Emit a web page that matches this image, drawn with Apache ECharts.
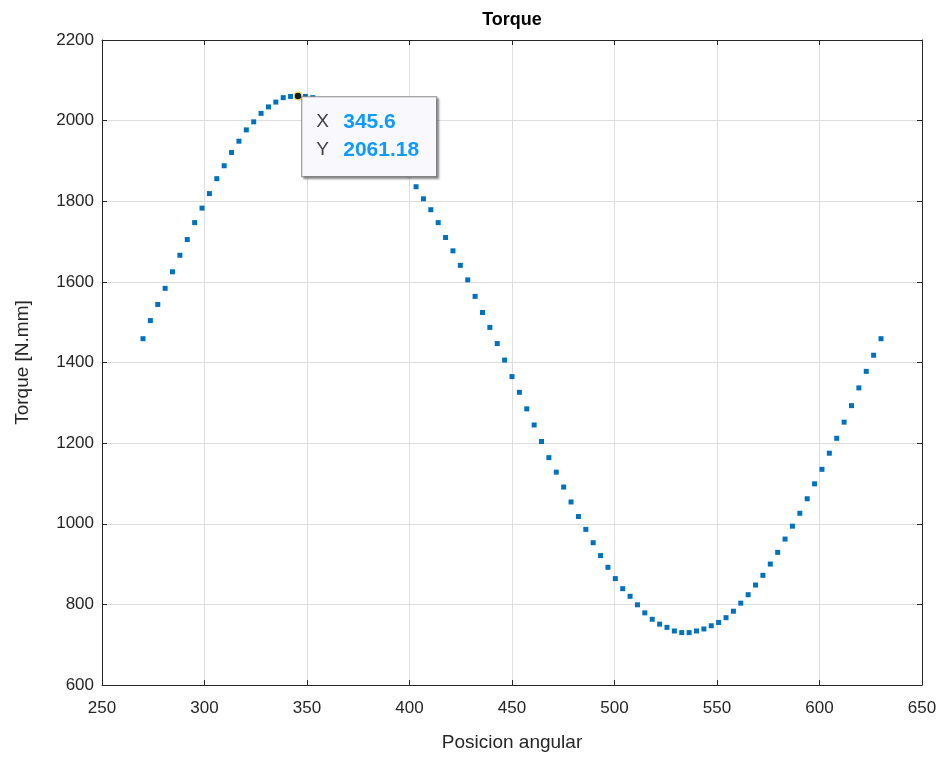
<!DOCTYPE html>
<html>
<head>
<meta charset="utf-8">
<title>Torque</title>
<script src="https://cdn.jsdelivr.net/npm/echarts@6/dist/echarts.min.js"></script>
<style>
  html, body { margin: 0; padding: 0; background: #ffffff; }
  #chart { width: 945px; height: 757px; }
</style>
</head>
<body>
<div id="chart"></div>
<script>
// Angular position of each sample (degrees)
const angles = [
  270, 273.6, 277.2, 280.8, 284.4, 288, 291.6, 295.2, 298.8, 302.4,
  306, 309.6, 313.2, 316.8, 320.4, 324, 327.6, 331.2, 334.8, 338.4,
  342, 345.6, 349.2, 352.8, 356.4, 360, 363.6, 367.2, 370.8, 374.4,
  378, 381.6, 385.2, 388.8, 392.4, 396, 399.6, 403.2, 406.8, 410.4,
  414, 417.6, 421.2, 424.8, 428.4, 432, 435.6, 439.2, 442.8, 446.4,
  450, 453.6, 457.2, 460.8, 464.4, 468, 471.6, 475.2, 478.8, 482.4,
  486, 489.6, 493.2, 496.8, 500.4, 504, 507.6, 511.2, 514.8, 518.4,
  522, 525.6, 529.2, 532.8, 536.4, 540, 543.6, 547.2, 550.8, 554.4,
  558, 561.6, 565.2, 568.8, 572.4, 576, 579.6, 583.2, 586.8, 590.4,
  594, 597.6, 601.2, 604.8, 608.4, 612, 615.6, 619.2, 622.8, 626.4,
  630
];

// Torque at each position (N.mm)
const torque = [
  1459, 1504, 1544, 1584, 1625, 1666, 1705, 1747, 1783, 1819,
  1856, 1888, 1921, 1949, 1977, 1997, 2018, 2034, 2046, 2057,
  2060, 2061.18, 2060, 2057, 2052, 2045, 2037, 2027, 2016, 2003,
  1988, 1972, 1955, 1936, 1915, 1892, 1866, 1836, 1806, 1779,
  1747, 1710, 1677, 1641, 1605, 1564, 1524, 1487, 1447, 1406,
  1365, 1326, 1285, 1245, 1204, 1164, 1128, 1091, 1054, 1018,
  986, 953, 921, 892, 864, 839, 820, 799, 779, 763,
  751, 743, 734, 730, 730, 734, 739, 747, 755, 767,
  783, 803, 824, 848, 872, 900, 929, 962, 994, 1026,
  1062, 1099, 1135, 1175, 1212, 1252, 1293, 1337, 1378, 1418,
  1459
];

// Axis tick labels
const xTickLabels = [250, 300, 350, 400, 450, 500, 550, 600, 650];
const yTickLabels = [600, 800, 1000, 1200, 1400, 1600, 1800, 2000, 2200];

// Sample highlighted with a data tip
const tipIndex = 21;

const FONT = '"Liberation Sans", Arial, Helvetica, sans-serif';
const INK = '#262626';
const GRID = '#dedede';

const xMin = xTickLabels[0], xMax = xTickLabels[xTickLabels.length - 1];
const yMin = yTickLabels[0], yMax = yTickLabels[yTickLabels.length - 1];
const xStep = xTickLabels[1] - xTickLabels[0];
const yStep = yTickLabels[1] - yTickLabels[0];

const points = angles.map((a, i) => [a, torque[i]]);

function valueAxis(common) {
  return Object.assign({
    type: 'value',
    axisLine: { show: true, onZero: false, lineStyle: { color: INK, width: 1 } },
    axisTick: { show: true, inside: true, length: 5, lineStyle: { color: INK, width: 1 } },
    splitLine: { show: false }
  }, common);
}

const plain = v => String(v);

const chart = echarts.init(document.getElementById('chart'), null, { renderer: 'canvas' });

chart.setOption({
  backgroundColor: '#ffffff',
  animation: false,
  grid: { left: 102, top: 40, width: 820, height: 646, containLabel: false },
  xAxis: [
    valueAxis({
      position: 'bottom',
      min: xMin, max: xMax, interval: xStep,
      name: 'Posicion angular',
      nameLocation: 'middle',
      nameGap: 48,
      nameTextStyle: { fontFamily: FONT, fontSize: 19, color: INK },
      axisLabel: { show: true, margin: 15, fontFamily: FONT, fontSize: 17, color: INK, formatter: plain },
      splitLine: { show: true, lineStyle: { color: GRID, width: 1 } }
    }),
    valueAxis({
      position: 'top',
      min: xMin, max: xMax, interval: xStep,
      name: 'Torque',
      nameLocation: 'middle',
      nameGap: 11,
      nameTextStyle: { fontFamily: FONT, fontSize: 18, fontWeight: 'bold', color: '#000000' },
      axisLabel: { show: false }
    })
  ],
  yAxis: [
    valueAxis({
      position: 'left',
      min: yMin, max: yMax, interval: yStep,
      name: 'Torque [N.mm]',
      nameLocation: 'middle',
      nameGap: 70,
      nameTextStyle: { fontFamily: FONT, fontSize: 19, color: INK },
      axisLabel: { show: true, margin: 8, fontFamily: FONT, fontSize: 17, color: INK, formatter: plain },
      splitLine: { show: true, lineStyle: { color: GRID, width: 1 } }
    }),
    valueAxis({
      position: 'right',
      min: yMin, max: yMax, interval: yStep,
      axisLabel: { show: false }
    })
  ],
  series: [
    {
      type: 'scatter',
      xAxisIndex: 0,
      yAxisIndex: 0,
      data: points,
      symbol: 'rect',
      symbolSize: 5,
      itemStyle: { color: '#0072BD', opacity: 1 },
      emphasis: { disabled: true },
      silent: true,
      markPoint: {
        silent: true,
        symbol: 'circle',
        symbolSize: 8,
        itemStyle: { color: '#1a1a1a', borderColor: '#f2e27a', borderWidth: 1.5 },
        label: {
          show: true,
          position: [9, 6],
          backgroundColor: '#f8f8fd',
          borderColor: '#8a8a8a',
          borderWidth: 1,
          shadowColor: 'rgba(0,0,0,0.35)',
          shadowBlur: 2,
          shadowOffsetX: 2,
          shadowOffsetY: 2,
          padding: [11, 10, 12, 14],
          width: 110,
          formatter: () => '{k|X}{v|' + angles[tipIndex] + '}\n{k|Y}{v|' + torque[tipIndex] + '}',
          rich: {
            k: { fontFamily: FONT, fontSize: 19, color: '#404040', width: 27, lineHeight: 28 },
            v: { fontFamily: FONT, fontSize: 21, fontWeight: 'bold', color: '#0f9aff', lineHeight: 28 }
          }
        },
        data: [{ coord: [angles[tipIndex], torque[tipIndex]] }]
      }
    }
  ]
});
</script>
</body>
</html>
